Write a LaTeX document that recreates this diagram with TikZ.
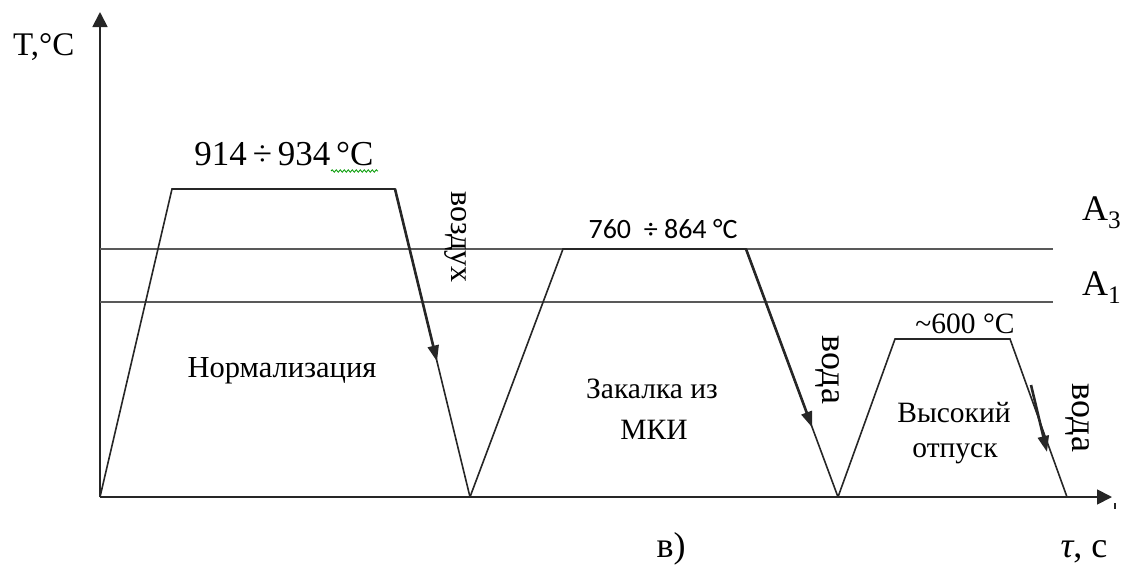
\documentclass[tikz,border=0pt]{standalone}
\usepackage{fontspec}
\setmainfont{Liberation Serif}
\newfontfamily\calib{Carlito}
\usetikzlibrary{arrows.meta,decorations.pathmorphing,calc}
\begin{document}
\begin{tikzpicture}[x=1pt,y=-1pt,
  curve/.style={line width=1.6pt, draw=black!85, line join=miter},
  crit/.style={line width=1.4pt, draw=black!65},
  axis/.style={line width=1.8pt, draw=black!85, -{Triangle[length=15pt,width=15pt]}},
  cool/.style={line width=2.6pt, draw=black!85, -{Triangle[length=16pt,width=11pt]}},
  lbl/.style={inner sep=0pt, font=\fontsize{29.5}{32}\selectfont},
  medium/.style={inner sep=0pt, rotate=-90, font=\fontsize{36}{40}\selectfont},
  biglbl/.style={inner sep=0pt, font=\fontsize{33}{36}\selectfont},
  crlbl/.style={inner sep=0pt, font=\fontsize{36}{40}\selectfont},
]
\useasboundingbox (0,0) rectangle (1133,565);

% origin and axes
\coordinate (O) at (100,497);
\coordinate (Ytip) at (100,12);
\coordinate (Xtip) at (1112,497);
\draw[axis] (O) -- (Ytip);
\draw[axis] (O) -- (Xtip);
\coordinate (mk1) at (1115,503);
\coordinate (mk2) at (1115,509);
\draw[line width=1.4pt, black!85] (mk1) -- (mk2);

% critical points A3 and A1
\coordinate (a3l) at (100,249);
\coordinate (a3r) at (1053,249);
\coordinate (a1l) at (100,302);
\coordinate (a1r) at (1053,302);
\draw[crit] (a3l) -- (a3r);
\draw[crit] (a1l) -- (a1r);

% normalizing cycle
\coordinate (n1) at (172,189);
\coordinate (n2) at (395,189);
\coordinate (n3) at (470,497);
\draw[curve] (O) -- (n1) -- (n2) -- (n3);

% quenching cycle
\coordinate (q1) at (563,249);
\coordinate (q2) at (746,249);
\coordinate (q3) at (838,497);
\draw[curve] (n3) -- (q1) -- (q2) -- (q3);

% high tempering cycle
\coordinate (t1) at (895,339);
\coordinate (t2) at (1010,339);
\coordinate (t3) at (1067,497);
\draw[curve] (q3) -- (t1) -- (t2) -- (t3);

% cooling arrows
\coordinate (c1) at ($(n2)!0.56!(n3)$);
\draw[cool] (n2) -- (c1);
\coordinate (c2) at ($(q2)!0.72!(q3)$);
\draw[cool] (q2) -- (c2);
\coordinate (c3a) at (1031,385);
\coordinate (c3b) at (1047,452);
\draw[cool] (c3a) -- (c3b);

% axis captions
\node[biglbl, anchor=base west] (Tlab) at (13,55) {T,°C};
\node[crlbl, anchor=base] (tau) at (1084,557) {{\itshape τ}, с};
\node[crlbl, anchor=base] (sub) at (671,557) {в)};
\node[crlbl, anchor=base west] (A3) at (1082,220) {A\textsubscript{3}};
\node[crlbl, anchor=base west] (A1) at (1082,295) {A\textsubscript{1}};

% temperature captions
\node[inner sep=0pt, anchor=base, font=\fontsize{35}{38}\selectfont] (Tn) at (284,165) {914\,÷\,934\,°C};
\coordinate (w1) at (331,171);
\coordinate (w2) at (378,171);
\draw[green!60!black, line width=0.8pt, decorate,
      decoration={snake, amplitude=1.2pt, segment length=4pt}] (w1) -- (w2);
\node[inner sep=0pt, anchor=base, font=\calib\fontsize{28}{30}\selectfont] (Tq) at (663,238) {760\ \ ÷ 864 °C};
\node[lbl, anchor=base] (Tt) at (965,333) {\char`\~600 °C};

% process names
\node[lbl, anchor=base, font=\fontsize{30.5}{33}\selectfont] (pn) at (282,377) {Нормализация};
\node[lbl, anchor=base] (pq1) at (652,398) {Закалка из};
\node[lbl, anchor=base] (pq2) at (654,439) {МКИ};
\node[lbl, anchor=base] (pt1) at (954,422) {Высокий};
\node[lbl, anchor=base] (pt2) at (955,457) {отпуск};

% cooling media
\node[medium, font=\fontsize{32}{36}\selectfont] (air) at (456,237) {воздух};
\node[medium] (w1l) at (827,370) {вода};
\node[medium] (w2l) at (1077,418) {вода};
\end{tikzpicture}
\end{document}
